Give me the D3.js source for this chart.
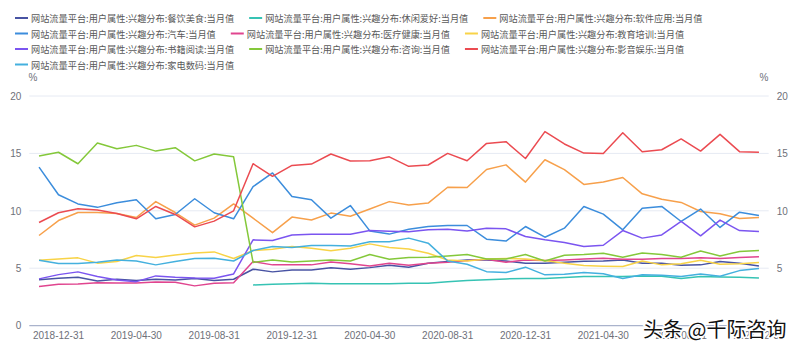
<!DOCTYPE html>
<html>
<head>
<meta charset="utf-8">
<script src="https://cdn.jsdelivr.net/npm/d3@7/dist/d3.min.js"></script>
<style>
  html, body { margin: 0; padding: 0; background: #fff; }
  svg { display: block; }
</style>
</head>
<body>
<svg id="chart" width="800" height="350"></svg>
<script>
const categories = [
  "2018-11-30","2018-12-31","2019-01-31","2019-02-28","2019-03-31","2019-04-30","2019-05-31","2019-06-30",
  "2019-07-31","2019-08-31","2019-09-30","2019-10-31","2019-11-30","2019-12-31","2020-01-31","2020-02-29",
  "2020-03-31","2020-04-30","2020-05-31","2020-06-30","2020-07-31","2020-08-31","2020-09-30","2020-10-31",
  "2020-11-30","2020-12-31","2021-01-31","2021-02-28","2021-03-31","2021-04-30","2021-05-31","2021-06-30",
  "2021-07-31","2021-08-31","2021-09-30","2021-10-31","2021-11-30","2021-12-31"
];
const xTickLabels = ["2018-12-31","2019-04-30","2019-08-31","2019-12-31","2020-04-30","2020-08-31","2020-12-31","2021-04-30","2021-08-31","2021-12-31"];
const yTickValues = [0, 5, 10, 15, 20];
const yUnit = "%";

const seriesNames = [
  "网站流量平台:用户属性:兴趣分布:餐饮美食:当月值",
  "网站流量平台:用户属性:兴趣分布:休闲爱好:当月值",
  "网站流量平台:用户属性:兴趣分布:软件应用:当月值",
  "网站流量平台:用户属性:兴趣分布:汽车:当月值",
  "网站流量平台:用户属性:兴趣分布:医疗健康:当月值",
  "网站流量平台:用户属性:兴趣分布:教育培训:当月值",
  "网站流量平台:用户属性:兴趣分布:书籍阅读:当月值",
  "网站流量平台:用户属性:兴趣分布:咨询:当月值",
  "网站流量平台:用户属性:兴趣分布:影音娱乐:当月值",
  "网站流量平台:用户属性:兴趣分布:家电数码:当月值"
];

const food = [4.0,4.12,4.21,3.89,4.04,3.92,4.04,3.98,4.1,3.92,4.04,4.91,4.68,4.85,4.85,5.03,4.91,5.05,5.26,5.09,5.44,5.58,5.72,5.72,5.63,5.44,5.44,5.52,5.6,5.63,5.72,5.44,5.44,5.26,5.29,5.58,5.44,5.2];
const leisure = [null,null,null,null,null,null,null,null,null,null,null,3.54,3.6,3.65,3.68,3.65,3.65,3.65,3.65,3.68,3.69,3.83,3.92,4.0,4.07,4.1,4.1,4.18,4.27,4.27,4.27,4.33,4.3,4.1,4.27,4.24,4.21,4.15];
const software = [7.85,9.15,9.85,9.85,9.77,9.42,10.8,9.85,8.75,9.36,10.6,9.36,8.1,9.45,9.2,9.8,9.53,10.15,10.8,10.5,10.67,12.05,12.03,13.6,14.0,12.5,14.45,13.58,12.3,12.5,12.9,11.48,11.0,10.73,9.94,9.74,9.33,9.42];
const auto = [13.8,11.4,10.6,10.3,10.7,10.96,9.3,9.68,11.05,9.83,9.3,12.1,13.3,11.25,10.96,9.36,10.46,8.25,7.97,8.4,8.63,8.72,8.72,7.53,7.36,8.63,7.7,8.49,10.38,9.71,8.34,10.23,10.38,9.07,10.15,8.55,9.88,9.59];
const medical = [3.4,3.6,3.63,3.74,3.72,3.72,3.8,3.77,3.46,3.69,3.74,5.58,5.29,5.29,5.29,5.55,5.38,5.2,5.44,5.26,5.44,5.52,5.66,5.78,5.52,5.72,5.66,5.72,5.81,5.87,5.78,5.78,5.84,5.84,5.9,5.84,5.93,5.99];
const education = [5.7,5.81,5.9,5.44,5.58,6.1,5.93,6.16,6.33,6.42,5.84,6.54,6.66,6.89,6.74,6.51,6.74,7.12,6.8,6.68,6.3,5.72,5.63,5.8,5.85,5.8,5.68,5.44,5.23,5.17,5.14,5.63,5.29,5.38,5.7,5.35,5.38,5.49];
const books = [4.07,4.44,4.68,4.27,3.98,3.83,4.33,4.21,4.15,4.13,4.5,7.47,7.41,7.9,7.96,7.96,7.96,8.28,8.22,8.17,8.34,8.4,8.25,8.49,8.43,7.76,7.47,7.23,6.89,7.0,8.28,7.62,7.9,9.07,7.82,9.19,8.28,8.2];
const consulting = [14.77,15.1,14.1,15.9,15.4,15.7,15.2,15.5,14.35,14.95,14.7,5.5,5.72,5.55,5.63,5.72,5.63,6.19,5.78,5.93,5.96,6.07,6.19,5.81,5.81,6.19,5.63,6.13,6.19,6.3,5.96,6.33,6.19,5.96,6.5,6.07,6.45,6.54];
const media = [8.98,9.83,10.17,10.06,9.77,9.3,10.38,9.68,8.6,9.1,10.0,14.1,13.0,13.95,14.07,14.95,14.34,14.36,14.7,13.87,13.99,15.0,14.36,15.87,16.02,14.56,16.9,15.82,15.03,15.0,16.8,15.15,15.32,16.26,15.2,16.66,15.15,15.09];
const appliances = [5.7,5.4,5.4,5.52,5.72,5.63,5.29,5.58,5.84,5.87,5.63,6.54,6.89,6.8,6.97,6.97,6.94,7.3,7.3,7.62,7.18,5.63,5.35,4.7,4.62,5.09,4.42,4.48,4.62,4.52,4.1,4.42,4.39,4.27,4.5,4.3,4.79,4.97];

const seriesValues = [food, leisure, software, auto, medical, education, books, consulting, media, appliances];
const seriesColors = ["#4853a3","#36c3b4","#f7a04b","#3c8ddc","#e0458f","#f8d347","#7b55f0","#84c83a","#eb4b51","#44b0de"];

const series = seriesNames.map((n, i) => ({ name: n, values: seriesValues[i], color: seriesColors[i] }));

const svg = d3.select("#chart");
const W = 800, H = 350;
const plot = { left: 29.3, right: 768.7, top: 96, bottom: 325.6 };
const labelFont = "'Liberation Sans', Arial, sans-serif";
const cjkFont = "'Noto Sans CJK SC', 'Noto Sans', sans-serif";
const textColor = "#6e7079";

const x = d3.scaleBand().domain(categories).range([plot.left, plot.right]).padding(0);
const xc = c => x(c) + x.bandwidth() / 2;
const y = d3.scaleLinear().domain([0, 20]).range([plot.bottom, plot.top]);

// grid lines
svg.append("g").selectAll("line")
  .data(yTickValues.filter(v => v > 0))
  .join("line")
  .attr("x1", plot.left).attr("x2", plot.right)
  .attr("y1", d => y(d)).attr("y2", d => y(d))
  .attr("stroke", "#e6eaf3").attr("stroke-width", 1);

// left axis
const leftAxis = svg.append("g").attr("transform", `translate(${plot.left},0)`)
  .call(d3.axisLeft(y).tickValues(yTickValues).tickSize(0).tickPadding(8));
leftAxis.select(".domain").remove();
leftAxis.selectAll("text").attr("font-family", labelFont).attr("font-size", 10).attr("fill", textColor);

// right axis
const rightAxis = svg.append("g").attr("transform", `translate(${plot.right},0)`)
  .call(d3.axisRight(y).tickValues(yTickValues).tickSize(0).tickPadding(8));
rightAxis.select(".domain").remove();
rightAxis.selectAll("text").attr("font-family", labelFont).attr("font-size", 10).attr("fill", textColor);

// unit labels
svg.append("text").attr("x", 33).attr("y", 81).attr("text-anchor", "middle")
  .attr("font-family", labelFont).attr("font-size", 10).attr("fill", textColor).text(yUnit);
svg.append("text").attr("x", 764).attr("y", 81).attr("text-anchor", "middle")
  .attr("font-family", labelFont).attr("font-size", 10).attr("fill", textColor).text(yUnit);

// bottom axis
const bottomAxis = svg.append("g").attr("transform", `translate(0,${plot.bottom})`)
  .call(d3.axisBottom(x).tickValues(xTickLabels).tickSize(0).tickPadding(6));
bottomAxis.select(".domain").attr("stroke", "#aab3cc").attr("stroke-width", 1.2)
  .attr("d", `M${plot.left},0H${plot.right}`);
bottomAxis.selectAll("text").attr("font-family", labelFont).attr("font-size", 10).attr("fill", textColor);

// lines
const line = d3.line()
  .defined(d => d.v !== null && d.v !== undefined)
  .x(d => xc(d.c))
  .y(d => y(d.v));

svg.append("g").selectAll("path")
  .data(series)
  .join("path")
  .attr("d", s => line(s.values.map((v, i) => ({ c: categories[i], v }))))
  .attr("fill", "none")
  .attr("stroke", s => s.color)
  .attr("stroke-width", 1.5)
  .attr("stroke-linejoin", "round");

// legend (flow layout)
const legend = svg.append("g");
const rowYs = [18, 33.5, 49, 64.5];
let lx = 15, row = 0;
const maxX = 790;
series.forEach(s => {
  const g = legend.append("g");
  const t = g.append("text")
    .attr("font-family", cjkFont).attr("font-size", 9.2).attr("fill", "#595959")
    .attr("dominant-baseline", "central")
    .text(s.name);
  const tw = t.node().getComputedTextLength();
  const itemW = 13 + 3 + tw;
  if (lx + itemW > maxX) { row += 1; lx = 15; }
  const cy = rowYs[row];
  g.append("line").attr("x1", lx).attr("x2", lx + 13).attr("y1", cy).attr("y2", cy)
    .attr("stroke", s.color).attr("stroke-width", 2);
  t.attr("x", lx + 16).attr("y", cy);
  lx += itemW + 15;
});

// source mark
svg.append("text").attr("x", 643).attr("y", 337)
  .attr("font-family", cjkFont).attr("font-size", 20).attr("fill", "#111")
  .attr("stroke", "#fff").attr("stroke-width", 3).attr("paint-order", "stroke")
  .text("头条 @千际咨询");
</script>
</body>
</html>
